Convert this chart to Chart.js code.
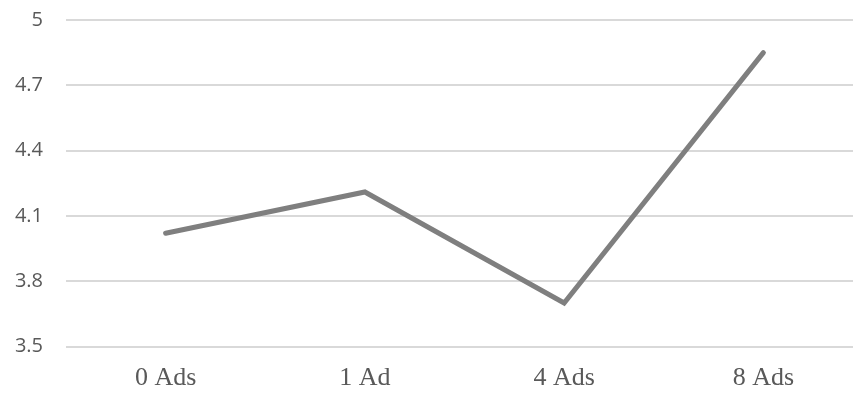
<!DOCTYPE html>
<html>
<head>
<meta charset="utf-8">
<script src="https://cdn.jsdelivr.net/npm/chart.js@4"></script>
<style>
  html, body { margin: 0; padding: 0; background: #fff; overflow: hidden; }
  #wrap { position: relative; width: 863px; height: 394px; }
</style>
</head>
<body>
<div id="wrap"><canvas id="c"></canvas></div>
<script>
// Average score by number of ads shown
const categories = ['0 Ads', '1 Ad', '4 Ads', '8 Ads'];
const scores = [4.02, 4.21, 3.70, 4.85];
const yMin = 3.5;
const yMax = 5;
const yStep = 0.3;

new Chart(document.getElementById('c'), {
  type: 'line',
  data: {
    labels: categories,
    datasets: [{
      data: scores,
      borderColor: '#7f7f7f',
      borderWidth: 5,
      borderCapStyle: 'round',
      borderJoinStyle: 'miter',
      pointRadius: 0,
      tension: 0,
      fill: false
    }]
  },
  options: {
    responsive: true,
    maintainAspectRatio: false,
    animation: false,
    layout: { autoPadding: false, padding: { top: 20, right: 0, bottom: 0, left: 0 } },
    plugins: { legend: { display: false }, tooltip: { enabled: false } },
    scales: {
      x: {
        offset: true,
        grid: { display: false, drawTicks: false },
        border: { display: false },
        ticks: {
          color: '#595959',
          padding: 16,
          font: { family: '"Liberation Serif", "Times New Roman", serif', size: 26 }
        },
        afterFit: s => { s.height = 47.5; s.paddingLeft = 0; s.paddingRight = 0; }
      },
      y: {
        min: yMin,
        max: yMax,
        grid: { color: '#d9d9d9', lineWidth: 2, drawTicks: false },
        border: { display: false },
        ticks: {
          stepSize: yStep,
          color: '#595959',
          padding: 23,
          font: { family: '"Open Sans", sans-serif', size: 20 },
          callback: v => String(+v.toFixed(1))
        },
        afterFit: s => { s.width = 66; s.paddingTop = 0; s.paddingBottom = 0; }
      }
    }
  }
});
</script>
</body>
</html>
